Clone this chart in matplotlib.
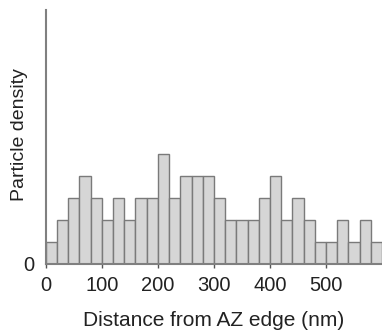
import matplotlib
matplotlib.use("Agg")
import matplotlib.pyplot as plt
import numpy as np

bin_edges = list(range(0, 620, 20))
counts = [1, 2, 3, 4, 3, 2, 3, 2, 3, 3,
          5, 3, 4, 4, 4, 3, 2, 2, 2, 3,
          4, 2, 3, 2, 1, 1, 2, 1, 2, 1]
xticks = [0, 100, 200, 300, 400, 500]

plt.rcParams['font.family'] = ['Liberation Sans', 'DejaVu Sans']
fig = plt.figure(figsize=(3.82, 3.32), dpi=100)
ax = fig.add_axes([0.120, 0.205, 0.88, 0.765])

ax.bar(bin_edges[:-1], counts, width=20, align='edge',
       color='#d6d6d6', edgecolor='#7a7a7a', linewidth=1.0)

ax.set_xlim(0, 600)
ax.set_ylim(0, 11.5)
ax.set_xticks(xticks)
ax.set_xticklabels([str(t) for t in xticks], fontsize=14.5, color='#222222')
ax.set_yticks([0])
ax.set_yticklabels(['0'], fontsize=14.5, color='#222222')
ax.tick_params(axis='x', length=3, color='#555555', width=1, pad=6)
ax.tick_params(axis='y', length=0, pad=8)
ax.set_xlabel('Distance from AZ edge (nm)', fontsize=15, labelpad=11, color='#222222')
ax.set_ylabel('Particle density', fontsize=14, color='#222222')
ax.yaxis.label.set_va('center')
ax.yaxis.set_label_coords(-0.078, 0.51)
for s in ['top', 'right']:
    ax.spines[s].set_visible(False)
for s in ['left', 'bottom']:
    ax.spines[s].set_color('#808080')
    ax.spines[s].set_linewidth(1.5)

fig.savefig('out.png', dpi=100)
